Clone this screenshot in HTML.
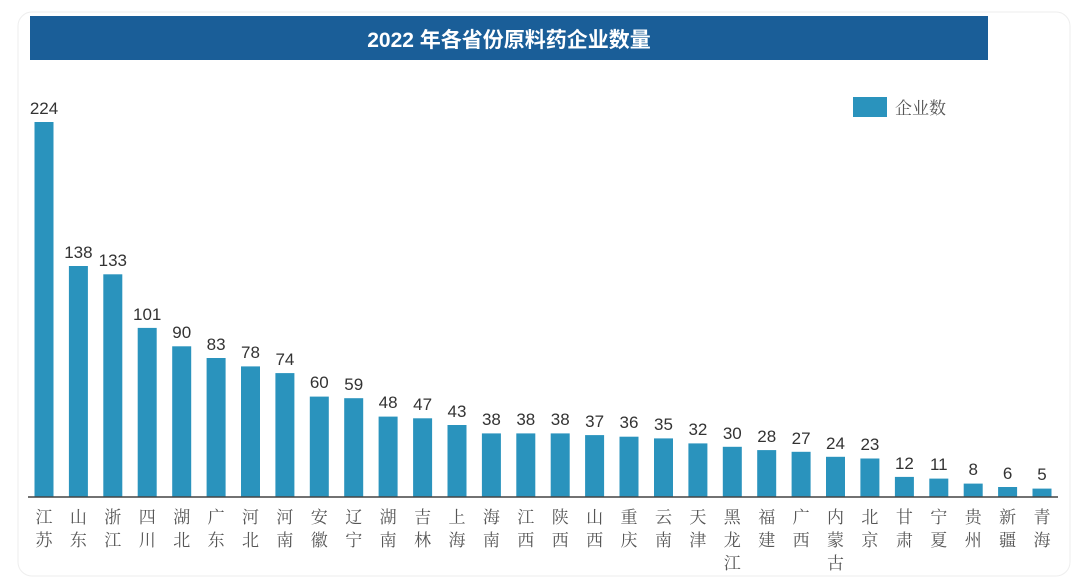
<!DOCTYPE html>
<html><head><meta charset="utf-8"><style>
body{margin:0;background:#fff;width:1089px;height:580px;overflow:hidden}
.v{font-family:"Liberation Sans",sans-serif;font-size:17px;fill:#333;text-anchor:middle}
.n{font-family:"Noto Serif CJK SC",serif;font-size:17px;fill:#555;text-anchor:middle}
.b{fill:#2a93bd}
</style></head><body>
<svg width="1089" height="580" xmlns="http://www.w3.org/2000/svg">
<rect x="18" y="12" width="1052" height="564" rx="14" fill="#fff" stroke="#eeeeee"/>
<rect x="30" y="16" width="958" height="44" fill="#1a5e98"/>
<text x="509" y="47" text-anchor="middle" fill="#fff" font-family="Liberation Sans, Noto Sans CJK SC, sans-serif" font-size="21" font-weight="bold">2022 年各省份原料药企业数量</text>
<rect x="853" y="97" width="34" height="20" fill="#2a93bd"/>
<text x="895" y="114" fill="#555" font-family="Noto Serif CJK SC, serif" font-size="17">企业数</text>

<g transform="translate(44,0)"><rect class="b" x="-9.5" y="122" width="19" height="375"/><text class="v" y="114">224</text><text class="n" y="523">江</text><text class="n" y="546">苏</text></g>
<g transform="translate(78.4,0)"><rect class="b" x="-9.5" y="266" width="19" height="231"/><text class="v" y="258">138</text><text class="n" y="523">山</text><text class="n" y="546">东</text></g>
<g transform="translate(112.8,0)"><rect class="b" x="-9.5" y="274.3" width="19" height="222.7"/><text class="v" y="266">133</text><text class="n" y="523">浙</text><text class="n" y="546">江</text></g>
<g transform="translate(147.2,0)"><rect class="b" x="-9.5" y="327.9" width="19" height="169.1"/><text class="v" y="320">101</text><text class="n" y="523">四</text><text class="n" y="546">川</text></g>
<g transform="translate(181.7,0)"><rect class="b" x="-9.5" y="346.3" width="19" height="150.7"/><text class="v" y="338">90</text><text class="n" y="523">湖</text><text class="n" y="546">北</text></g>
<g transform="translate(216.1,0)"><rect class="b" x="-9.5" y="358" width="19" height="139"/><text class="v" y="350">83</text><text class="n" y="523">广</text><text class="n" y="546">东</text></g>
<g transform="translate(250.5,0)"><rect class="b" x="-9.5" y="366.4" width="19" height="130.6"/><text class="v" y="358">78</text><text class="n" y="523">河</text><text class="n" y="546">北</text></g>
<g transform="translate(284.9,0)"><rect class="b" x="-9.5" y="373.1" width="19" height="123.9"/><text class="v" y="365">74</text><text class="n" y="523">河</text><text class="n" y="546">南</text></g>
<g transform="translate(319.3,0)"><rect class="b" x="-9.5" y="396.6" width="19" height="100.4"/><text class="v" y="388">60</text><text class="n" y="523">安</text><text class="n" y="546">徽</text></g>
<g transform="translate(353.7,0)"><rect class="b" x="-9.5" y="398.2" width="19" height="98.8"/><text class="v" y="390">59</text><text class="n" y="523">辽</text><text class="n" y="546">宁</text></g>
<g transform="translate(388.1,0)"><rect class="b" x="-9.5" y="416.6" width="19" height="80.4"/><text class="v" y="408">48</text><text class="n" y="523">湖</text><text class="n" y="546">南</text></g>
<g transform="translate(422.6,0)"><rect class="b" x="-9.5" y="418.3" width="19" height="78.7"/><text class="v" y="410">47</text><text class="n" y="523">吉</text><text class="n" y="546">林</text></g>
<g transform="translate(457,0)"><rect class="b" x="-9.5" y="425" width="19" height="72"/><text class="v" y="417">43</text><text class="n" y="523">上</text><text class="n" y="546">海</text></g>
<g transform="translate(491.4,0)"><rect class="b" x="-9.5" y="433.4" width="19" height="63.6"/><text class="v" y="425">38</text><text class="n" y="523">海</text><text class="n" y="546">南</text></g>
<g transform="translate(525.8,0)"><rect class="b" x="-9.5" y="433.4" width="19" height="63.6"/><text class="v" y="425">38</text><text class="n" y="523">江</text><text class="n" y="546">西</text></g>
<g transform="translate(560.2,0)"><rect class="b" x="-9.5" y="433.4" width="19" height="63.6"/><text class="v" y="425">38</text><text class="n" y="523">陕</text><text class="n" y="546">西</text></g>
<g transform="translate(594.6,0)"><rect class="b" x="-9.5" y="435.1" width="19" height="61.9"/><text class="v" y="427">37</text><text class="n" y="523">山</text><text class="n" y="546">西</text></g>
<g transform="translate(629,0)"><rect class="b" x="-9.5" y="436.7" width="19" height="60.3"/><text class="v" y="428">36</text><text class="n" y="523">重</text><text class="n" y="546">庆</text></g>
<g transform="translate(663.5,0)"><rect class="b" x="-9.5" y="438.4" width="19" height="58.6"/><text class="v" y="430">35</text><text class="n" y="523">云</text><text class="n" y="546">南</text></g>
<g transform="translate(697.9,0)"><rect class="b" x="-9.5" y="443.4" width="19" height="53.6"/><text class="v" y="435">32</text><text class="n" y="523">天</text><text class="n" y="546">津</text></g>
<g transform="translate(732.3,0)"><rect class="b" x="-9.5" y="446.8" width="19" height="50.2"/><text class="v" y="439">30</text><text class="n" y="523">黑</text><text class="n" y="546">龙</text><text class="n" y="569">江</text></g>
<g transform="translate(766.7,0)"><rect class="b" x="-9.5" y="450.1" width="19" height="46.9"/><text class="v" y="442">28</text><text class="n" y="523">福</text><text class="n" y="546">建</text></g>
<g transform="translate(801.1,0)"><rect class="b" x="-9.5" y="451.8" width="19" height="45.2"/><text class="v" y="444">27</text><text class="n" y="523">广</text><text class="n" y="546">西</text></g>
<g transform="translate(835.5,0)"><rect class="b" x="-9.5" y="456.8" width="19" height="40.2"/><text class="v" y="449">24</text><text class="n" y="523">内</text><text class="n" y="546">蒙</text><text class="n" y="569">古</text></g>
<g transform="translate(869.9,0)"><rect class="b" x="-9.5" y="458.5" width="19" height="38.5"/><text class="v" y="450">23</text><text class="n" y="523">北</text><text class="n" y="546">京</text></g>
<g transform="translate(904.4,0)"><rect class="b" x="-9.5" y="476.9" width="19" height="20.1"/><text class="v" y="469">12</text><text class="n" y="523">甘</text><text class="n" y="546">肃</text></g>
<g transform="translate(938.8,0)"><rect class="b" x="-9.5" y="478.6" width="19" height="18.4"/><text class="v" y="470">11</text><text class="n" y="523">宁</text><text class="n" y="546">夏</text></g>
<g transform="translate(973.2,0)"><rect class="b" x="-9.5" y="483.6" width="19" height="13.4"/><text class="v" y="475">8</text><text class="n" y="523">贵</text><text class="n" y="546">州</text></g>
<g transform="translate(1007.6,0)"><rect class="b" x="-9.5" y="487" width="19" height="10"/><text class="v" y="479">6</text><text class="n" y="523">新</text><text class="n" y="546">疆</text></g>
<g transform="translate(1042,0)"><rect class="b" x="-9.5" y="488.6" width="19" height="8.4"/><text class="v" y="480">5</text><text class="n" y="523">青</text><text class="n" y="546">海</text></g>

<line x1="28" y1="497" x2="1058" y2="497" stroke="#444" stroke-width="1.5"/>
</svg>
</body></html>
